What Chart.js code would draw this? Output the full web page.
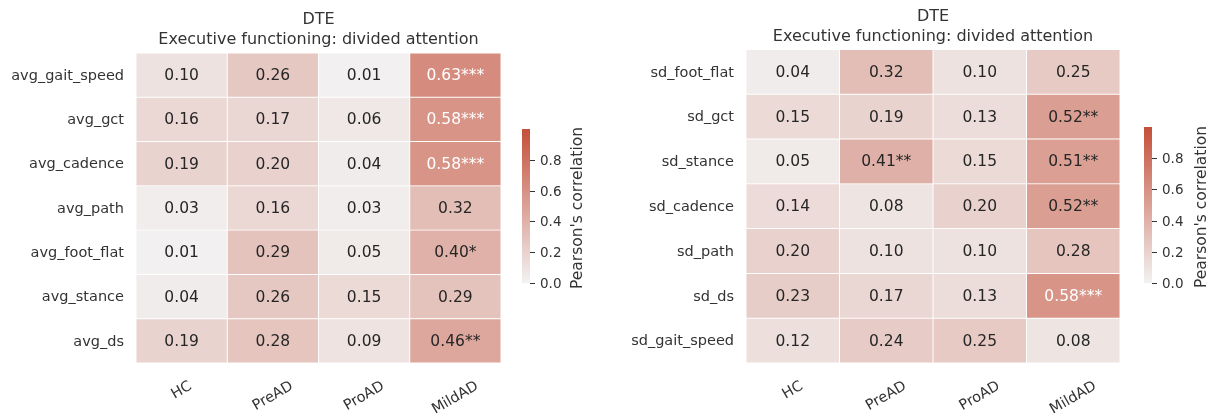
<!DOCTYPE html>
<html>
<head>
<meta charset="utf-8">
<title>DTE – Executive functioning: divided attention</title>
<script src="https://cdn.jsdelivr.net/npm/chart.js@4.4.1/dist/chart.umd.min.js"></script>
<style>
  html, body { margin: 0; padding: 0; background: #ffffff; }
  #wrap { position: relative; width: 1225px; height: 415px; overflow: hidden; }
  canvas { position: absolute; top: 0; }
</style>
</head>
<body>
<div id="wrap">
  <canvas id="avgChart" width="612" height="415" style="left:0px"></canvas>
  <canvas id="sdChart" width="613" height="415" style="left:612px"></canvas>
</div>
<script>
// ---- data -------------------------------------------------------------
const groups = ['HC', 'PreAD', 'ProAD', 'MildAD'];
const titleLines = ['DTE', 'Executive functioning: divided attention'];
const colorbarLabel = "Pearson's correlation";
const colorbarTicks = [0.0, 0.2, 0.4, 0.6, 0.8];

// mean gait features
const avgFeatures = ['avg_gait_speed', 'avg_gct', 'avg_cadence', 'avg_path', 'avg_foot_flat', 'avg_stance', 'avg_ds'];
const avgHC     = [0.10, 0.16, 0.19, 0.03, 0.01, 0.04, 0.19];
const avgPreAD  = [0.26, 0.17, 0.20, 0.16, 0.29, 0.26, 0.28];
const avgProAD  = [0.01, 0.06, 0.04, 0.03, 0.05, 0.15, 0.09];
const avgMildAD = [0.63, 0.58, 0.58, 0.32, 0.40, 0.29, 0.46];
const avgSigHC     = ['', '', '', '', '', '', ''];
const avgSigPreAD  = ['', '', '', '', '', '', ''];
const avgSigProAD  = ['', '', '', '', '', '', ''];
const avgSigMildAD = ['***', '***', '***', '', '*', '', '**'];

// variability gait features
const sdFeatures = ['sd_foot_flat', 'sd_gct', 'sd_stance', 'sd_cadence', 'sd_path', 'sd_ds', 'sd_gait_speed'];
const sdHC     = [0.04, 0.15, 0.05, 0.14, 0.20, 0.23, 0.12];
const sdPreAD  = [0.32, 0.19, 0.41, 0.08, 0.10, 0.17, 0.24];
const sdProAD  = [0.10, 0.13, 0.15, 0.20, 0.10, 0.13, 0.25];
const sdMildAD = [0.25, 0.52, 0.51, 0.52, 0.28, 0.58, 0.08];
const sdSigHC     = ['', '', '', '', '', '', ''];
const sdSigPreAD  = ['', '', '**', '', '', '', ''];
const sdSigProAD  = ['', '', '', '', '', '', ''];
const sdSigMildAD = ['', '**', '**', '**', '', '***', ''];

// ---- colour scale -----------------------------------------------------
const VMIN = 0, VMAX = 1;
const LOW = [242, 242, 242];
const HIGH = [196, 80, 58];
const FONT = "'DejaVu Sans', 'Liberation Sans', sans-serif";
const TEXT_DARK = '#262626';
const TEXT_AXIS = '#333333';

function mixRGB(t) {
  t = Math.max(0, Math.min(1, t));
  return LOW.map((c, k) => Math.round(c + t * (HIGH[k] - c)));
}
function cmap(v) {
  const [r, g, b] = mixRGB((v - VMIN) / (VMAX - VMIN));
  return `rgb(${r},${g},${b})`;
}
function luminance(v) {
  const rgb = mixRGB((v - VMIN) / (VMAX - VMIN)).map(c => {
    c /= 255;
    return c <= 0.03928 ? c / 12.92 : Math.pow((c + 0.055) / 1.055, 2.4);
  });
  return 0.2126 * rgb[0] + 0.7152 * rgb[1] + 0.0722 * rgb[2];
}
// light cells get dark annotations, dark cells get white ones
function annotColor(v) {
  return luminance(v) > 0.408 ? TEXT_DARK : '#ffffff';
}

// ---- decorations: annotations, tick labels, titles, colour bar ---------
const heatmapDecor = {
  id: 'heatmapDecor',
  afterDatasetsDraw(chart, args, o) {
    const ctx = chart.ctx;
    ctx.save();
    ctx.font = `${o.valueSize}px ${FONT}`;
    ctx.textAlign = 'center';
    ctx.textBaseline = 'middle';
    chart.data.datasets.forEach((ds, j) => {
      const meta = chart.getDatasetMeta(j);
      meta.data.forEach((el, i) => {
        const v = ds.values[i];
        const p = el.getCenterPoint();
        ctx.fillStyle = annotColor(v);
        ctx.fillText(v.toFixed(2) + ds.stars[i], p.x, p.y + 1);
      });
    });
    ctx.restore();
  },
  afterDraw(chart, args, o) {
    const ctx = chart.ctx;
    const area = chart.chartArea;
    const xs = chart.scales.x, ys = chart.scales.y;
    ctx.save();

    // title
    ctx.fillStyle = TEXT_AXIS;
    ctx.font = `${o.titleSize}px ${FONT}`;
    ctx.textAlign = 'center';
    ctx.textBaseline = 'middle';
    const cx = (area.left + area.right) / 2;
    titleLines.forEach((line, k) => {
      ctx.fillText(line, cx, area.top - o.titleGap - (titleLines.length - 1 - k) * o.titleLineHeight);
    });

    // row labels
    ctx.font = `${o.tickSize}px ${FONT}`;
    ctx.textAlign = 'right';
    chart.data.labels.forEach((lab, i) => {
      ctx.fillText(lab, area.left - o.tickPad, ys.getPixelForValue(i) + 1);
    });

    // column labels, rotated 30 degrees
    const ang = 30 * Math.PI / 180;
    ctx.textAlign = 'center';
    groups.forEach((g, j) => {
      const w = ctx.measureText(g).width;
      const h = o.tickSize;
      const bh = w * Math.sin(ang) + h * Math.cos(ang);
      const px = xs.getPixelForValue(j + 0.5);
      const py = area.bottom + o.xLabelGap + bh / 2;
      ctx.save();
      ctx.translate(px, py);
      ctx.rotate(-ang);
      ctx.fillText(g, 0, 0);
      ctx.restore();
    });

    // colour bar
    const cb = o.colorbar;
    const pxPerUnit = (cb.zeroY - cb.topY) / (VMAX - VMIN);
    const grad = ctx.createLinearGradient(0, cb.zeroY, 0, cb.topY);
    for (let s = 0; s <= 10; s++) grad.addColorStop(s / 10, cmap(VMIN + s / 10 * (VMAX - VMIN)));
    ctx.fillStyle = grad;
    ctx.fillRect(cb.x, cb.topY, cb.width, cb.zeroY - cb.topY);

    ctx.strokeStyle = TEXT_AXIS;
    ctx.lineWidth = 1;
    ctx.fillStyle = TEXT_AXIS;
    ctx.font = `${o.cbTickSize}px ${FONT}`;
    ctx.textAlign = 'left';
    ctx.textBaseline = 'middle';
    colorbarTicks.forEach(t => {
      const y = Math.round(cb.zeroY - (t - VMIN) * pxPerUnit) + 0.5;
      ctx.beginPath();
      ctx.moveTo(cb.x + cb.width, y);
      ctx.lineTo(cb.x + cb.width + 5, y);
      ctx.stroke();
      ctx.fillText(t.toFixed(1), cb.x + cb.width + 10, y + 1);
    });

    ctx.save();
    ctx.font = `${o.cbLabelSize}px ${FONT}`;
    ctx.textAlign = 'center';
    ctx.translate(cb.labelX, (cb.topY + cb.zeroY) / 2 + 2);
    ctx.rotate(-Math.PI / 2);
    ctx.fillText(colorbarLabel, 0, 0);
    ctx.restore();

    ctx.restore();
  }
};

// ---- chart builder ------------------------------------------------------
// each group is one dataset of floating bars spanning [j, j+1] on the x scale,
// one bar per feature row on the category y scale
function buildHeatmap(canvasId, features, columns, sigs, padding, colorbar) {
  const datasets = columns.map((vals, j) => ({
    label: groups[j],
    data: features.map(() => [j, j + 1]),
    values: vals,
    stars: sigs[j],
    backgroundColor: vals.map(cmap),
    borderColor: '#ffffff',
    borderWidth: 0.8,
    borderSkipped: false,
    barPercentage: 1,
    categoryPercentage: 1
  }));

  return new Chart(document.getElementById(canvasId), {
    type: 'bar',
    data: { labels: features, datasets },
    options: {
      indexAxis: 'y',
      responsive: false,
      animation: false,
      events: [],
      layout: { padding },
      scales: {
        y: { type: 'category', stacked: true, display: false, offset: true },
        x: { type: 'linear', min: 0, max: groups.length, stacked: false, display: false }
      },
      plugins: {
        legend: { display: false },
        tooltip: { enabled: false },
        heatmapDecor: {
          valueSize: 15.5,
          tickSize: 14.5,
          tickPad: 12,
          titleSize: 16,
          titleGap: 13,
          titleLineHeight: 20,
          xLabelGap: 16,
          cbTickSize: 13.5,
          cbLabelSize: 15.5,
          colorbar
        }
      }
    },
    plugins: [heatmapDecor]
  });
}

buildHeatmap('avgChart', avgFeatures,
  [avgHC, avgPreAD, avgProAD, avgMildAD],
  [avgSigHC, avgSigPreAD, avgSigProAD, avgSigMildAD],
  { left: 136, right: 612 - 501, top: 53, bottom: 415 - 363 },
  { x: 522, width: 8, topY: 129, zeroY: 283, labelX: 578 });

buildHeatmap('sdChart', sdFeatures,
  [sdHC, sdPreAD, sdProAD, sdMildAD],
  [sdSigHC, sdSigPreAD, sdSigProAD, sdSigMildAD],
  { left: 134, right: 613 - 508, top: 49.5, bottom: 415 - 363 },
  { x: 532, width: 8, topY: 127, zeroY: 283, labelX: 590 });
</script>
</body>
</html>
